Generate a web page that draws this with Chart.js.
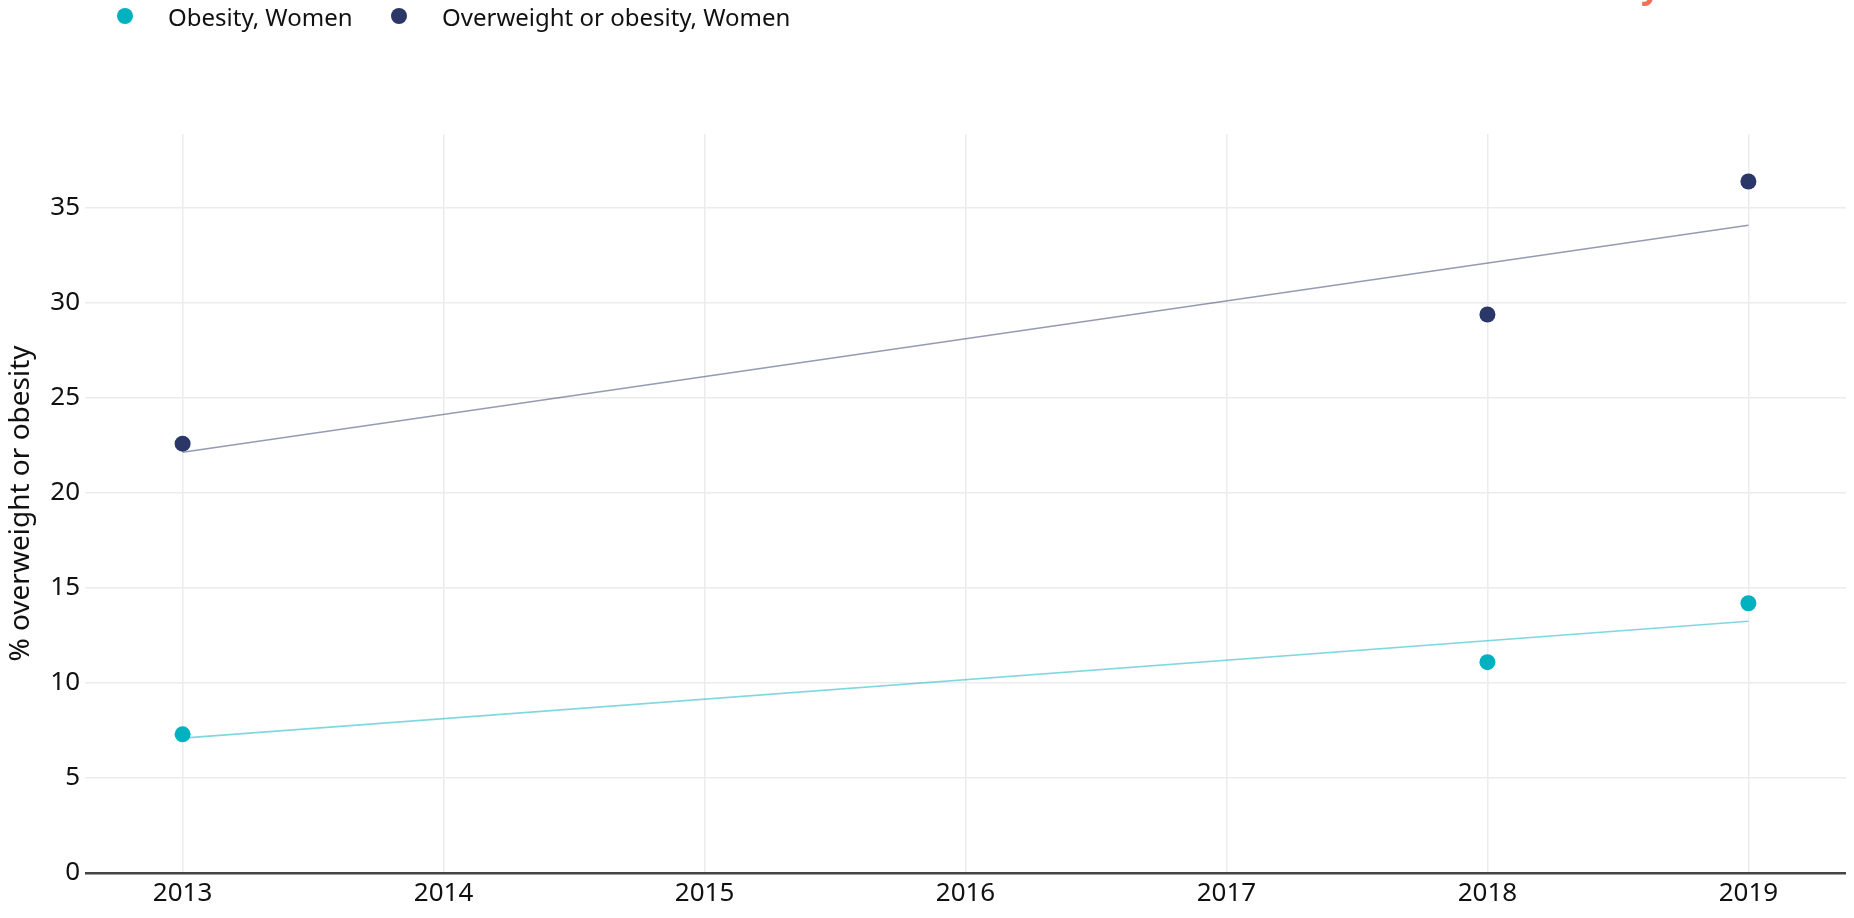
<!DOCTYPE html>
<html>
<head>
<meta charset="utf-8">
<title>Overweight and obesity, women</title>
<script src="https://cdn.jsdelivr.net/npm/chart.js@4.4.1/dist/chart.umd.min.js"></script>
<style>
    html, body { margin: 0; padding: 0; background: #fff; overflow: hidden; }
    #wrap { position: relative; width: 1854px; height: 918px; }
    #legend {
        position: absolute; left: 117px; top: 1px;
        display: flex; align-items: center;
        font-family: "Noto Sans", "Open Sans", sans-serif; font-size: 24px; color: #111;
    }
    #legend .item { display: flex; align-items: center; height: 30px; }
    #legend .dot { width: 16px; height: 16px; border-radius: 50%; margin-right: 35px; flex: none; }
    #legend .txt { display: inline-block; white-space: nowrap; }
</style>
</head>
<body>
<div id="wrap">
    <canvas id="chart"></canvas>
    <div id="legend"></div>
</div>
<script>
// values
const years = [2013, 2018, 2019];
const obesityWomen = [7.3, 11.1, 14.2];
const overweightWomen = [22.6, 29.4, 36.4];

// fitted trend lines, endpoints read at 2013 and 2019
const trendYears = [2013, 2019];
const obesityTrend = [7.1, 13.25];
const overweightTrend = [22.15, 34.1];

const xTickYears = [2013, 2014, 2015, 2016, 2017, 2018, 2019];
const yTicks = [0, 5, 10, 15, 20, 25, 30, 35];

const TEAL = '#00b2bf';
const NAVY = '#2b3766';
const FONT = '"Noto Sans", "Open Sans", sans-serif';

function toPoints(xs, ys) {
    return xs.map((x, i) => ({ x: x, y: ys[i] }));
}

// small orange fragment of a logo cut off at the top right
const logoFragment = {
    id: 'logoFragment',
    afterDraw(chart) {
        const ctx = chart.ctx;
        ctx.save();
        ctx.fillStyle = '#f0705a';
        ctx.font = 'bold 34px ' + FONT;
        ctx.textBaseline = 'alphabetic';
        ctx.fillText('y', 1641, -2);
        ctx.restore();
    }
};

const chart = new Chart(document.getElementById('chart'), {
    type: 'scatter',
    data: {
        datasets: [
            {
                label: 'Obesity trend',
                data: toPoints(trendYears, obesityTrend),
                showLine: true,
                borderColor: 'rgba(0, 178, 191, 0.5)',
                borderWidth: 1.6,
                pointRadius: 0,
                inLegend: false,
                order: 3
            },
            {
                label: 'Overweight trend',
                data: toPoints(trendYears, overweightTrend),
                showLine: true,
                borderColor: 'rgba(43, 55, 102, 0.5)',
                borderWidth: 1.6,
                pointRadius: 0,
                inLegend: false,
                order: 3
            },
            {
                label: 'Obesity, Women',
                data: toPoints(years, obesityWomen),
                backgroundColor: TEAL,
                borderColor: TEAL,
                pointRadius: 8,
                pointBorderWidth: 0,
                inLegend: true,
                order: 1
            },
            {
                label: 'Overweight or obesity, Women',
                data: toPoints(years, overweightWomen),
                backgroundColor: NAVY,
                borderColor: NAVY,
                pointRadius: 8,
                pointBorderWidth: 0,
                inLegend: true,
                order: 1
            }
        ]
    },
    options: {
        responsive: true,
        maintainAspectRatio: false,
        animation: false,
        layout: { padding: { top: 134, left: 0, right: 0, bottom: 0 } },
        plugins: {
            legend: { display: false },
            tooltip: { enabled: false }
        },
        scales: {
            x: {
                type: 'linear',
                min: 2012.626,
                max: 2019.374,
                afterBuildTicks: axis => { axis.ticks = xTickYears.map(v => ({ value: v })); },
                afterFit: axis => { axis.height = 45; },
                border: { display: false },
                grid: { color: '#ececec', lineWidth: 1.5, drawTicks: false },
                ticks: {
                    padding: 5,
                    color: '#111',
                    font: { family: FONT, size: 26 },
                    callback: v => String(v)
                }
            },
            y: {
                min: 0,
                max: 38.9,
                afterBuildTicks: axis => { axis.ticks = yTicks.map(v => ({ value: v })); },
                afterFit: axis => { axis.width = 85; },
                border: { display: false },
                grid: {
                    drawTicks: false,
                    color: ctx => ctx.tick && ctx.tick.value === 0 ? '#444' : '#ececec',
                    lineWidth: ctx => ctx.tick && ctx.tick.value === 0 ? 2.5 : 1.5
                },
                ticks: {
                    padding: 5,
                    color: '#111',
                    font: { family: FONT, size: 26 }
                },
                title: {
                    display: true,
                    text: '% overweight or obesity',
                    color: '#111',
                    font: { family: FONT, size: 28 },
                    padding: { top: 4, bottom: 0 }
                }
            }
        }
    },
    plugins: [logoFragment]
});

// html legend built from the chart's own datasets
const legendEl = document.getElementById('legend');
const legendTextWidths = [183, null];
chart.data.datasets.filter(d => d.inLegend).forEach((d, i) => {
    const item = document.createElement('div');
    item.className = 'item';
    const w = legendTextWidths[i] ? `width:${legendTextWidths[i]}px;margin-right:40px;` : '';
    item.innerHTML = `<span class="dot" style="background:${d.backgroundColor}"></span><span class="txt" style="${w}">${d.label}</span>`;
    legendEl.appendChild(item);
});
</script>
</body>
</html>
